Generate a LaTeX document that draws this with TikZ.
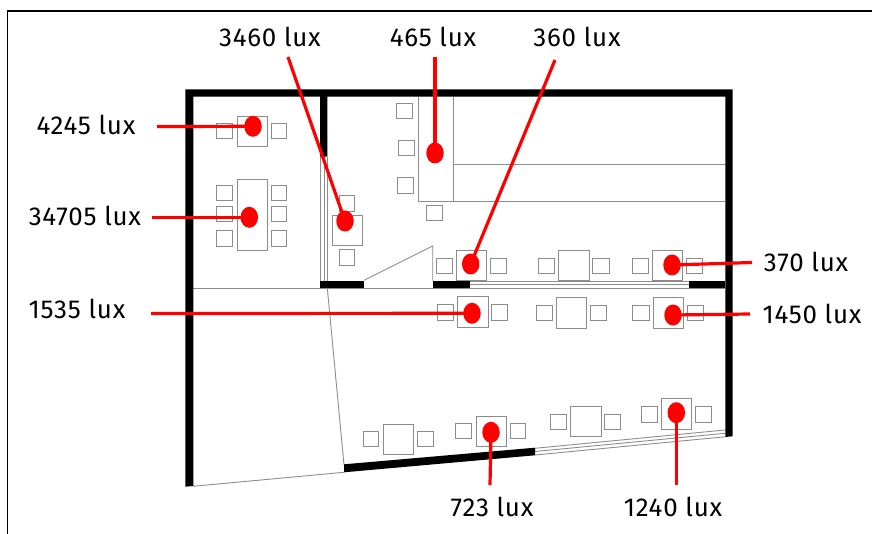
\documentclass[tikz,border=0pt]{standalone}
\usepackage{fontspec}
\setmainfont[LetterSpace=3]{Fira Sans}
\usetikzlibrary{shapes.geometric}
\definecolor{thin}{RGB}{140,140,140}
\tikzset{
  x=1bp,y=-1bp,
  wall/.style={fill=black,draw=none},
  fine/.style={draw=thin,line width=0.9bp},
  seat/.style={draw=thin,line width=1bp,fill=none},
  dot/.style={ellipse,fill=red,draw=none,inner sep=0pt,minimum width=17.5bp,minimum height=21bp},
  lead/.style={draw=red,line width=3.2bp},
  lab/.style={font=\fontsize{26}{30}\selectfont,text=black,inner sep=0pt,anchor=center}
}
\newcommand{\seatbox}[4]{\draw[seat] (#1,#3) rectangle (#2,#4);}
\begin{document}
\begin{tikzpicture}
\useasboundingbox (0,0) rectangle (872,534);
\draw[black,line width=1.5bp] (7.7,534) -- (7.7,11) -- (872,11);
% thin lines
\draw[fine] (193,288) -- (725,288);
\draw[fine] (320,157) -- (320,281);
\draw[fine] (324,157) -- (324,281);
\draw[fine] (327.3,157) -- (327.3,281);
\draw[fine] (327.3,288) -- (344,465);
\draw[fine] (193,486.3) -- (344,472.3);
\draw[fine] (418.3,97) -- (418.3,201.3) -- (725,201.3);
\draw[fine] (453.7,97) -- (453.7,201.3);
\draw[fine] (453.7,164.3) -- (725,164.3);
\draw[fine] (364,280.3) -- (432.7,246) -- (432.7,281);
\draw[fine] (470,281) -- (689,281);
\draw[fine] (470,284.3) -- (689,284.3);
\draw[fine] (535,448.3) -- (725,430);
\draw[fine] (535,451.5) -- (725,433.3);
\draw[fine] (535,455) -- (725,436.8);
% walls
\fill[wall] (185.3,486.7) -- (185.3,89.3) -- (732.7,89.3) -- (732.7,436.3) -- (725.3,437) -- (725.3,96.7) -- (327.3,96.7) -- (327.3,156.7) -- (320,156.7) -- (320,96.7) -- (193.3,96.7) -- (193.3,486) -- cycle;
\fill[wall] (320,280.7) rectangle (363.7,288);
\fill[wall] (432.7,280.7) rectangle (470,288);
\fill[wall] (688.7,280.7) rectangle (725.3,288);
\fill[wall] (344,464.3) -- (535,447.7) -- (535,455.3) -- (344,472.3) -- cycle;
% tables and chairs
\seatbox{237}{267}{116.3}{146.3}
\seatbox{216.3}{232.7}{123.7}{139}
\seatbox{271}{286.7}{123.7}{139}
\seatbox{237}{267}{180}{250.7}
\seatbox{216.3}{232.7}{185.3}{200.3}
\seatbox{216.3}{232.7}{206.3}{221.3}
\seatbox{216.3}{232.7}{231}{246.3}
\seatbox{271}{286.7}{185.3}{200.3}
\seatbox{271}{286.7}{206.3}{221.3}
\seatbox{271}{286.7}{231}{246.3}
\seatbox{332}{362}{216}{246}
\seatbox{339.3}{354.7}{195.3}{211.3}
\seatbox{339.3}{354.7}{250}{265.3}
\seatbox{396.3}{412.7}{103.7}{119}
\seatbox{398.3}{414.3}{140.3}{155.7}
\seatbox{397}{413}{177.7}{193.3}
\seatbox{426.7}{442.7}{205.3}{220.3}
\seatbox{456}{486.7}{251}{280.7}
\seatbox{436}{452.3}{258.3}{273.7}
\seatbox{490.3}{506.3}{258.3}{273.7}
\seatbox{558.7}{589}{251}{280.7}
\seatbox{538.7}{554.7}{258.3}{273.7}
\seatbox{592.7}{609}{258.3}{273.7}
\seatbox{652.3}{682.7}{251}{280.7}
\seatbox{632.3}{648}{258.3}{273.7}
\seatbox{686.7}{702.7}{258.3}{273.7}
\seatbox{457.3}{488}{297}{327}
\seatbox{437.3}{453.7}{304.3}{320}
\seatbox{491.7}{507.7}{304.3}{320}
\seatbox{556.3}{586.7}{298}{328}
\seatbox{536.3}{552.3}{305.3}{320.7}
\seatbox{590.3}{606.3}{305.3}{320.7}
\seatbox{653}{683.7}{298}{328}
\seatbox{632.7}{649}{305.3}{320.7}
\seatbox{687}{703}{305.3}{320.7}
\seatbox{383}{413}{424.3}{454.3}
\seatbox{363}{378.7}{431.3}{446.7}
\seatbox{417}{433}{431.3}{446.7}
\seatbox{476}{506}{416}{446}
\seatbox{455.7}{471.7}{423.3}{438.7}
\seatbox{510}{525.7}{423.3}{438.7}
\seatbox{570.7}{601}{406.7}{436.7}
\seatbox{550.3}{566.7}{414}{429.3}
\seatbox{604.7}{620.7}{414}{429.3}
\seatbox{661.3}{691.7}{398.7}{429.3}
\seatbox{641.3}{657.7}{406.3}{422}
\seatbox{695.3}{711.3}{406.3}{422}
% labels
\node[lab] (l4245) at (86,124.5) {4245 lux};
\node[lab] (l34705) at (85,216) {34705 lux};
\node[lab] (l3460) at (270,37) {3460 lux};
\node[lab] (l465) at (433,37) {465 lux};
\node[lab] (l360) at (577,37) {360 lux};
\node[lab] (l370) at (806,262) {370 lux};
\node[lab] (l1450) at (812,314) {1450 lux};
\node[lab] (l1535) at (77,309) {1535 lux};
\node[lab] (l723) at (492,507) {723 lux};
\node[lab] (l1240) at (673,507) {1240 lux};
% sensor dots
\node[dot] (d4245) at (253,126.3) {};
\node[dot] (d34705) at (249.3,217.3) {};
\node[dot] (d3460) at (345,221) {};
\node[dot] (d465) at (435,153) {};
\node[dot] (d360) at (470.7,264) {};
\node[dot] (d370) at (672,265) {};
\node[dot] (d1450) at (673,315) {};
\node[dot] (d1535) at (472,313.3) {};
\node[dot] (d723) at (491,432.3) {};
\node[dot] (d1240) at (676.3,412.7) {};
% free ends of the leaders
\coordinate (e4245) at (157,126.5);
\coordinate (e34705) at (152,217.3);
\coordinate (e3460) at (288,57);
\coordinate (e465) at (435,57);
\coordinate (e360) at (555,60);
\coordinate (e370) at (752,262.5);
\coordinate (e1450) at (750,314);
\coordinate (e1535) at (151,313.5);
\coordinate (e723) at (490,485);
\coordinate (e1240) at (676.3,485);
\draw[lead] (e4245) -- (d4245.center);
\draw[lead] (e34705) -- (d34705.center);
\draw[lead] (e3460) -- (d3460.center);
\draw[lead] (e465) -- (d465.center);
\draw[lead] (e360) -- (d360.center);
\draw[lead] (e370) -- (d370.center);
\draw[lead] (e1450) -- (d1450.center);
\draw[lead] (e1535) -- (d1535.center);
\draw[lead] (e723) -- (d723.center);
\draw[lead] (e1240) -- (d1240.center);
\end{tikzpicture}
\end{document}
